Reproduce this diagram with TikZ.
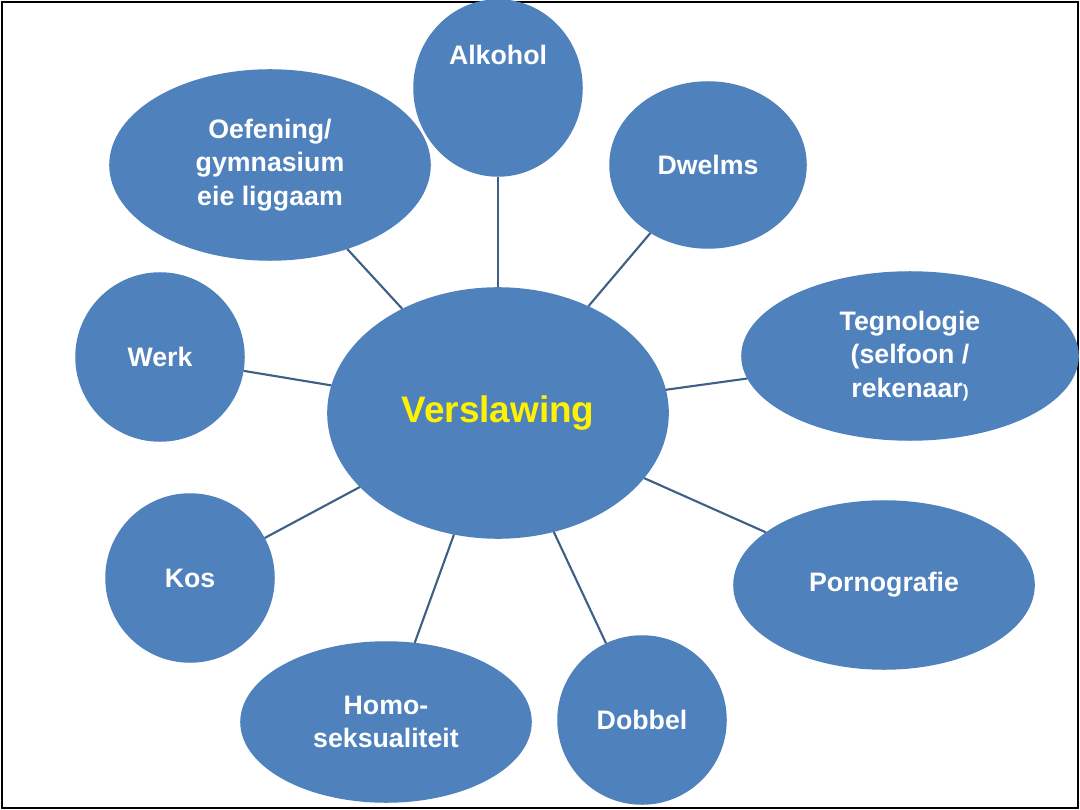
\documentclass[tikz,border=0pt]{standalone}
\usepackage{fontspec}
\setmainfont{Liberation Sans}
\usetikzlibrary{shapes.geometric}
\definecolor{bubble}{HTML}{4F81BD}
\definecolor{spoke}{HTML}{3E5F86}
\tikzset{
  bub/.style={draw=bubble,fill=bubble,ellipse,inner sep=0pt,text=white,
    font=\fontsize{7.6}{9.6}\selectfont\bfseries,align=center},
  spk/.style={draw=spoke,line width=0.6pt}
}
\begin{document}
\begin{tikzpicture}[x=0.01cm,y=-0.01cm]
  \useasboundingbox (0,0) rectangle (1080,810);
  \draw[black,line width=0.8pt] (2,2) rectangle (1078,808);
  % hub
  \node[bub,minimum width=3.4cm,minimum height=2.5cm,text=yellow,
    font=\fontsize{10.5}{12}\selectfont\bfseries] (hub) at (498,413) {Verslawing};
  % outer bubbles
  \node[bub,minimum width=1.68cm,minimum height=1.76cm] (alk) at (498,88) {Alkohol\\[1.2em]};
  \node[bub,minimum width=3.2cm,minimum height=1.9cm] (oef) at (270,165) {Oefening/\\gymnasium\\eie liggaam};
  \node[bub,minimum width=1.96cm,minimum height=1.66cm] (dwe) at (708,165) {Dwelms};
  \node[bub,minimum width=1.68cm,minimum height=1.68cm] (wer) at (160,357) {Werk};
  \node[bub,minimum width=3.36cm,minimum height=1.68cm] (teg) at (910,356) {Tegnologie\\(selfoon /\\rekenaar{\fontsize{5}{6}\selectfont)}};
  \node[bub,minimum width=1.68cm,minimum height=1.68cm] (kos) at (190,578) {Kos};
  \node[bub,minimum width=3.0cm,minimum height=1.68cm] (por) at (884,585) {Pornografie};
  \node[bub,minimum width=2.9cm,minimum height=1.6cm] (hom) at (386,722) {Homo-\\seksualiteit};
  \node[bub,minimum width=1.68cm,minimum height=1.68cm] (dob) at (642,720) {Dobbel};
  % spokes
  \foreach \n in {alk,oef,dwe,wer,teg,kos,por,hom,dob}
    \draw[spk] (hub) -- (\n);
\end{tikzpicture}
\end{document}
